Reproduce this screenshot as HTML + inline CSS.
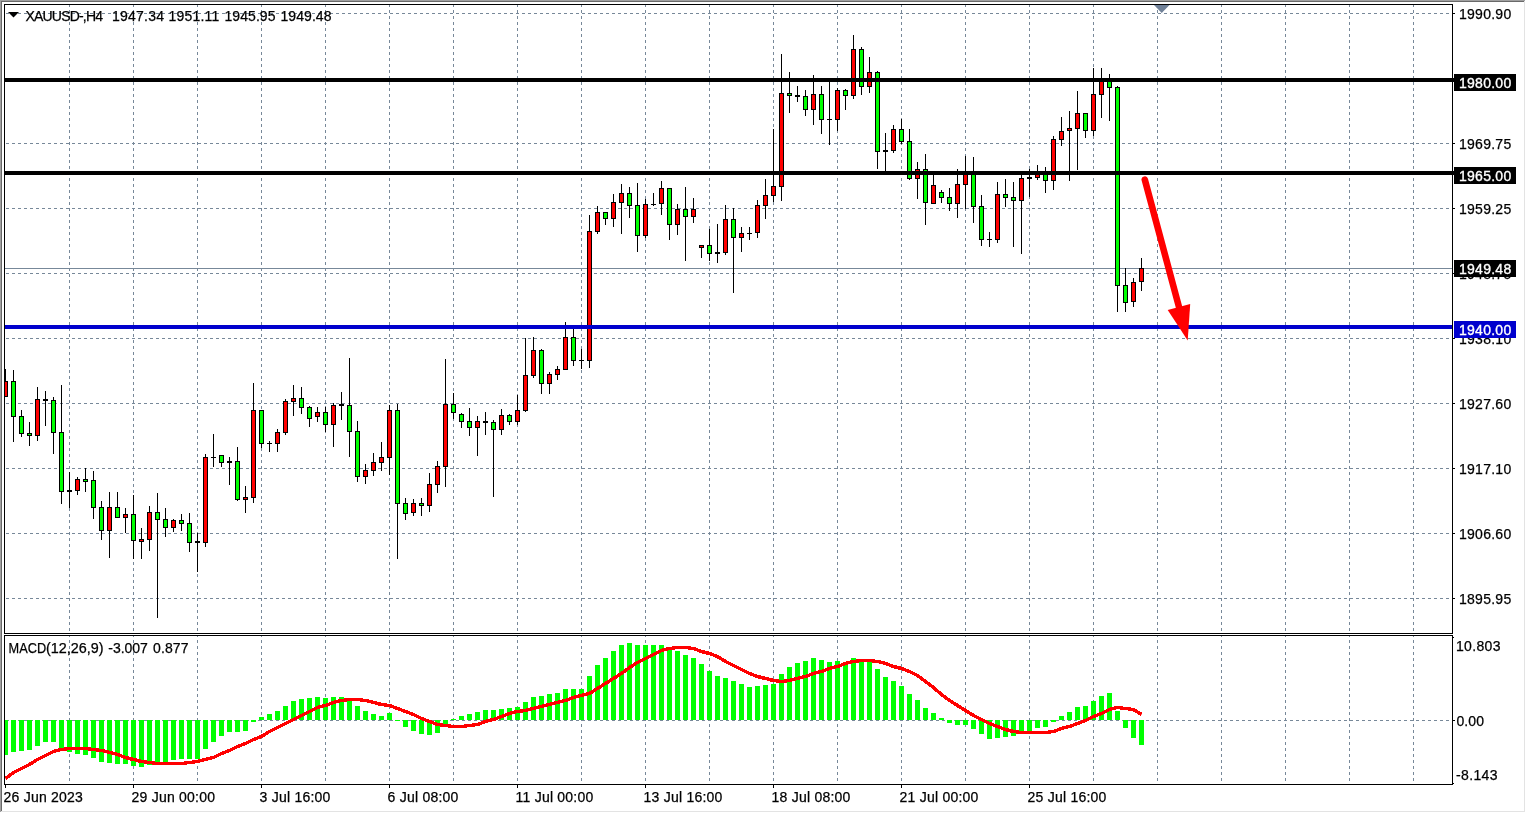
<!DOCTYPE html>
<html><head><meta charset="utf-8"><title>XAUUSD H4</title>
<style>html,body{margin:0;padding:0;background:#fff;overflow:hidden}svg{display:block}text{font-family:"Liberation Sans",sans-serif;font-size:14px;fill:#000;stroke:#000;stroke-width:.25px}.w{fill:#fff;stroke:#fff;stroke-width:.35px}.d{letter-spacing:0.22px}</style></head>
<body>
<svg width="1526" height="813" viewBox="0 0 1526 813">
<rect x="0" y="0" width="1526" height="813" fill="#fff"/>
<g shape-rendering="crispEdges">
<rect x="0" y="0" width="1525" height="1" fill="#a0a0a0"/><rect x="0" y="0" width="1" height="812" fill="#a0a0a0"/><rect x="1" y="1" width="1523" height="1" fill="#696969"/><rect x="1" y="1" width="1" height="810" fill="#696969"/><rect x="1" y="811" width="1524" height="1" fill="#e3e3e3"/><rect x="1524" y="1" width="1" height="811" fill="#e3e3e3"/>
<g stroke="#778899" stroke-width="1" stroke-dasharray="3 3" fill="none">
<path d="M6 13.5H1452"/><path d="M6 78.5H1452"/><path d="M6 143.5H1452"/><path d="M6 208.5H1452"/><path d="M6 273.5H1452"/><path d="M6 338.5H1452"/><path d="M6 403.5H1452"/><path d="M6 468.5H1452"/><path d="M6 533.5H1452"/><path d="M6 598.5H1452"/><path d="M6 720.5H1452"/>
<path d="M69.5 4V784"/><path d="M133.5 4V784"/><path d="M197.5 4V784"/><path d="M261.5 4V784"/><path d="M325.5 4V784"/><path d="M389.5 4V784"/><path d="M453.5 4V784"/><path d="M517.5 4V784"/><path d="M581.5 4V784"/><path d="M645.5 4V784"/><path d="M709.5 4V784"/><path d="M773.5 4V784"/><path d="M837.5 4V784"/><path d="M901.5 4V784"/><path d="M965.5 4V784"/><path d="M1029.5 4V784"/><path d="M1093.5 4V784"/><path d="M1157.5 4V784"/><path d="M1221.5 4V784"/><path d="M1285.5 4V784"/><path d="M1349.5 4V784"/><path d="M1413.5 4V784"/></g>
<rect x="4" y="634" width="1450" height="1" fill="#fff"/>
<rect x="5" y="268" width="1447" height="1" fill="#778899"/>
</g>
<path d="M1154 5H1169.5L1161.7 13Z" fill="#708198"/>
<defs><clipPath id="cm"><rect x="5" y="5" width="1447" height="628"/></clipPath><clipPath id="ci"><rect x="5" y="636" width="1447" height="148"/></clipPath></defs>
<g shape-rendering="crispEdges" clip-path="url(#cm)">
<rect x="5" y="369" width="1" height="28"/><rect x="3" y="381" width="5" height="16"/><rect x="4" y="382" width="3" height="14" fill="#ff0000"/>
<rect x="13" y="370" width="1" height="72"/><rect x="11" y="381" width="5" height="36"/><rect x="12" y="382" width="3" height="34" fill="#00ff00"/>
<rect x="21" y="410" width="1" height="27"/><rect x="19" y="416" width="5" height="18"/><rect x="20" y="417" width="3" height="16" fill="#00ff00"/>
<rect x="29" y="422" width="1" height="24"/><rect x="27" y="433" width="5" height="3"/><rect x="28" y="434" width="3" height="1" fill="#00ff00"/>
<rect x="37" y="387" width="1" height="54"/><rect x="35" y="399" width="5" height="37"/><rect x="36" y="400" width="3" height="35" fill="#ff0000"/>
<rect x="45" y="391" width="1" height="35"/><rect x="43" y="399" width="5" height="2"/>
<rect x="53" y="397" width="1" height="57"/><rect x="51" y="400" width="5" height="33"/><rect x="52" y="401" width="3" height="31" fill="#00ff00"/>
<rect x="61" y="385" width="1" height="119"/><rect x="59" y="432" width="5" height="60"/><rect x="60" y="433" width="3" height="58" fill="#00ff00"/>
<rect x="69" y="472" width="1" height="36"/><rect x="67" y="490" width="5" height="2"/>
<rect x="77" y="477" width="1" height="18"/><rect x="75" y="479" width="5" height="12"/><rect x="76" y="480" width="3" height="10" fill="#ff0000"/>
<rect x="85" y="468" width="1" height="24"/><rect x="83" y="479" width="5" height="3"/><rect x="84" y="480" width="3" height="1" fill="#00ff00"/>
<rect x="93" y="471" width="1" height="48"/><rect x="91" y="480" width="5" height="28"/><rect x="92" y="481" width="3" height="26" fill="#00ff00"/>
<rect x="101" y="501" width="1" height="39"/><rect x="99" y="507" width="5" height="24"/><rect x="100" y="508" width="3" height="22" fill="#00ff00"/>
<rect x="109" y="492" width="1" height="66"/><rect x="107" y="507" width="5" height="24"/><rect x="108" y="508" width="3" height="22" fill="#ff0000"/>
<rect x="117" y="492" width="1" height="26"/><rect x="115" y="507" width="5" height="11"/><rect x="116" y="508" width="3" height="9" fill="#00ff00"/>
<rect x="125" y="508" width="1" height="25"/><rect x="123" y="514" width="5" height="4"/><rect x="124" y="515" width="3" height="2" fill="#ff0000"/>
<rect x="133" y="495" width="1" height="64"/><rect x="131" y="514" width="5" height="27"/><rect x="132" y="515" width="3" height="25" fill="#00ff00"/>
<rect x="141" y="528" width="1" height="31"/><rect x="139" y="539" width="5" height="3"/><rect x="140" y="540" width="3" height="1" fill="#ff0000"/>
<rect x="149" y="506" width="1" height="45"/><rect x="147" y="512" width="5" height="28"/><rect x="148" y="513" width="3" height="26" fill="#ff0000"/>
<rect x="157" y="493" width="1" height="125"/><rect x="155" y="512" width="5" height="8"/><rect x="156" y="513" width="3" height="6" fill="#00ff00"/>
<rect x="165" y="508" width="1" height="29"/><rect x="163" y="519" width="5" height="9"/><rect x="164" y="520" width="3" height="7" fill="#00ff00"/>
<rect x="173" y="519" width="1" height="13"/><rect x="171" y="520" width="5" height="8"/><rect x="172" y="521" width="3" height="6" fill="#ff0000"/>
<rect x="181" y="514" width="1" height="17"/><rect x="179" y="520" width="5" height="4"/><rect x="180" y="521" width="3" height="2" fill="#00ff00"/>
<rect x="189" y="513" width="1" height="39"/><rect x="187" y="523" width="5" height="20"/><rect x="188" y="524" width="3" height="18" fill="#00ff00"/>
<rect x="197" y="533" width="1" height="39"/><rect x="195" y="541" width="5" height="2"/>
<rect x="205" y="454" width="1" height="93"/><rect x="203" y="457" width="5" height="86"/><rect x="204" y="458" width="3" height="84" fill="#ff0000"/>
<rect x="213" y="434" width="1" height="33"/><rect x="211" y="457" width="5" height="1"/>
<rect x="221" y="455" width="1" height="12"/><rect x="219" y="455" width="5" height="8"/><rect x="220" y="456" width="3" height="6" fill="#00ff00"/>
<rect x="229" y="457" width="1" height="28"/><rect x="227" y="461" width="5" height="2"/>
<rect x="237" y="447" width="1" height="54"/><rect x="235" y="461" width="5" height="39"/><rect x="236" y="462" width="3" height="37" fill="#00ff00"/>
<rect x="245" y="486" width="1" height="27"/><rect x="243" y="497" width="5" height="3"/><rect x="244" y="498" width="3" height="1" fill="#ff0000"/>
<rect x="253" y="383" width="1" height="120"/><rect x="251" y="410" width="5" height="88"/><rect x="252" y="411" width="3" height="86" fill="#ff0000"/>
<rect x="261" y="410" width="1" height="38"/><rect x="259" y="410" width="5" height="34"/><rect x="260" y="411" width="3" height="32" fill="#00ff00"/>
<rect x="269" y="441" width="1" height="11"/><rect x="267" y="443" width="5" height="1"/>
<rect x="277" y="429" width="1" height="23"/><rect x="275" y="432" width="5" height="12"/><rect x="276" y="433" width="3" height="10" fill="#ff0000"/>
<rect x="285" y="399" width="1" height="36"/><rect x="283" y="401" width="5" height="32"/><rect x="284" y="402" width="3" height="30" fill="#ff0000"/>
<rect x="293" y="385" width="1" height="31"/><rect x="291" y="398" width="5" height="4"/><rect x="292" y="399" width="3" height="2" fill="#ff0000"/>
<rect x="301" y="387" width="1" height="27"/><rect x="299" y="398" width="5" height="10"/><rect x="300" y="399" width="3" height="8" fill="#00ff00"/>
<rect x="309" y="406" width="1" height="21"/><rect x="307" y="407" width="5" height="12"/><rect x="308" y="408" width="3" height="10" fill="#00ff00"/>
<rect x="317" y="407" width="1" height="15"/><rect x="315" y="412" width="5" height="5"/><rect x="316" y="413" width="3" height="3" fill="#ff0000"/>
<rect x="325" y="407" width="1" height="25"/><rect x="323" y="412" width="5" height="13"/><rect x="324" y="413" width="3" height="11" fill="#00ff00"/>
<rect x="333" y="403" width="1" height="44"/><rect x="331" y="405" width="5" height="20"/><rect x="332" y="406" width="3" height="18" fill="#ff0000"/>
<rect x="341" y="392" width="1" height="28"/><rect x="339" y="404" width="5" height="2"/>
<rect x="349" y="358" width="1" height="99"/><rect x="347" y="405" width="5" height="27"/><rect x="348" y="406" width="3" height="25" fill="#00ff00"/>
<rect x="357" y="421" width="1" height="61"/><rect x="355" y="431" width="5" height="46"/><rect x="356" y="432" width="3" height="44" fill="#00ff00"/>
<rect x="365" y="464" width="1" height="20"/><rect x="363" y="470" width="5" height="7"/><rect x="364" y="471" width="3" height="5" fill="#ff0000"/>
<rect x="373" y="453" width="1" height="23"/><rect x="371" y="462" width="5" height="9"/><rect x="372" y="463" width="3" height="7" fill="#ff0000"/>
<rect x="381" y="442" width="1" height="29"/><rect x="379" y="457" width="5" height="6"/><rect x="380" y="458" width="3" height="4" fill="#ff0000"/>
<rect x="389" y="405" width="1" height="70"/><rect x="387" y="410" width="5" height="48"/><rect x="388" y="411" width="3" height="46" fill="#ff0000"/>
<rect x="397" y="404" width="1" height="155"/><rect x="395" y="410" width="5" height="94"/><rect x="396" y="411" width="3" height="92" fill="#00ff00"/>
<rect x="405" y="498" width="1" height="22"/><rect x="403" y="503" width="5" height="11"/><rect x="404" y="504" width="3" height="9" fill="#00ff00"/>
<rect x="413" y="499" width="1" height="17"/><rect x="411" y="503" width="5" height="10"/><rect x="412" y="504" width="3" height="8" fill="#ff0000"/>
<rect x="421" y="498" width="1" height="18"/><rect x="419" y="503" width="5" height="3"/><rect x="420" y="504" width="3" height="1" fill="#00ff00"/>
<rect x="429" y="473" width="1" height="39"/><rect x="427" y="484" width="5" height="22"/><rect x="428" y="485" width="3" height="20" fill="#ff0000"/>
<rect x="437" y="461" width="1" height="32"/><rect x="435" y="466" width="5" height="19"/><rect x="436" y="467" width="3" height="17" fill="#ff0000"/>
<rect x="445" y="359" width="1" height="128"/><rect x="443" y="404" width="5" height="63"/><rect x="444" y="405" width="3" height="61" fill="#ff0000"/>
<rect x="453" y="393" width="1" height="26"/><rect x="451" y="404" width="5" height="9"/><rect x="452" y="405" width="3" height="7" fill="#00ff00"/>
<rect x="461" y="413" width="1" height="15"/><rect x="459" y="414" width="5" height="8"/><rect x="460" y="415" width="3" height="6" fill="#00ff00"/>
<rect x="469" y="408" width="1" height="28"/><rect x="467" y="421" width="5" height="7"/><rect x="468" y="422" width="3" height="5" fill="#00ff00"/>
<rect x="477" y="416" width="1" height="40"/><rect x="475" y="421" width="5" height="7"/><rect x="476" y="422" width="3" height="5" fill="#ff0000"/>
<rect x="485" y="412" width="1" height="23"/><rect x="483" y="421" width="5" height="2"/>
<rect x="493" y="420" width="1" height="77"/><rect x="491" y="422" width="5" height="8"/><rect x="492" y="423" width="3" height="6" fill="#00ff00"/>
<rect x="501" y="409" width="1" height="26"/><rect x="499" y="415" width="5" height="15"/><rect x="500" y="416" width="3" height="13" fill="#ff0000"/>
<rect x="509" y="414" width="1" height="11"/><rect x="507" y="415" width="5" height="7"/><rect x="508" y="416" width="3" height="5" fill="#00ff00"/>
<rect x="517" y="395" width="1" height="30"/><rect x="515" y="410" width="5" height="12"/><rect x="516" y="411" width="3" height="10" fill="#ff0000"/>
<rect x="525" y="338" width="1" height="74"/><rect x="523" y="375" width="5" height="36"/><rect x="524" y="376" width="3" height="34" fill="#ff0000"/>
<rect x="533" y="337" width="1" height="41"/><rect x="531" y="350" width="5" height="26"/><rect x="532" y="351" width="3" height="24" fill="#ff0000"/>
<rect x="541" y="349" width="1" height="45"/><rect x="539" y="350" width="5" height="34"/><rect x="540" y="351" width="3" height="32" fill="#00ff00"/>
<rect x="549" y="372" width="1" height="22"/><rect x="547" y="374" width="5" height="10"/><rect x="548" y="375" width="3" height="8" fill="#ff0000"/>
<rect x="557" y="366" width="1" height="14"/><rect x="555" y="369" width="5" height="6"/><rect x="556" y="370" width="3" height="4" fill="#ff0000"/>
<rect x="565" y="322" width="1" height="48"/><rect x="563" y="337" width="5" height="33"/><rect x="564" y="338" width="3" height="31" fill="#ff0000"/>
<rect x="573" y="327" width="1" height="39"/><rect x="571" y="337" width="5" height="24"/><rect x="572" y="338" width="3" height="22" fill="#00ff00"/>
<rect x="581" y="349" width="1" height="20"/><rect x="579" y="360" width="5" height="1"/>
<rect x="589" y="215" width="1" height="153"/><rect x="587" y="231" width="5" height="130"/><rect x="588" y="232" width="3" height="128" fill="#ff0000"/>
<rect x="597" y="206" width="1" height="28"/><rect x="595" y="212" width="5" height="20"/><rect x="596" y="213" width="3" height="18" fill="#ff0000"/>
<rect x="605" y="212" width="1" height="13"/><rect x="603" y="212" width="5" height="7"/><rect x="604" y="213" width="3" height="5" fill="#00ff00"/>
<rect x="613" y="194" width="1" height="33"/><rect x="611" y="202" width="5" height="17"/><rect x="612" y="203" width="3" height="15" fill="#ff0000"/>
<rect x="621" y="184" width="1" height="50"/><rect x="619" y="193" width="5" height="10"/><rect x="620" y="194" width="3" height="8" fill="#ff0000"/>
<rect x="629" y="187" width="1" height="31"/><rect x="627" y="193" width="5" height="13"/><rect x="628" y="194" width="3" height="11" fill="#00ff00"/>
<rect x="637" y="183" width="1" height="69"/><rect x="635" y="205" width="5" height="31"/><rect x="636" y="206" width="3" height="29" fill="#00ff00"/>
<rect x="645" y="199" width="1" height="39"/><rect x="643" y="204" width="5" height="32"/><rect x="644" y="205" width="3" height="30" fill="#ff0000"/>
<rect x="653" y="193" width="1" height="13"/><rect x="651" y="204" width="5" height="1"/>
<rect x="661" y="181" width="1" height="34"/><rect x="659" y="188" width="5" height="16"/><rect x="660" y="189" width="3" height="14" fill="#ff0000"/>
<rect x="669" y="188" width="1" height="52"/><rect x="667" y="188" width="5" height="37"/><rect x="668" y="189" width="3" height="35" fill="#00ff00"/>
<rect x="677" y="204" width="1" height="31"/><rect x="675" y="209" width="5" height="16"/><rect x="676" y="210" width="3" height="14" fill="#ff0000"/>
<rect x="685" y="187" width="1" height="74"/><rect x="683" y="209" width="5" height="8"/><rect x="684" y="210" width="3" height="6" fill="#00ff00"/>
<rect x="693" y="198" width="1" height="25"/><rect x="691" y="209" width="5" height="8"/><rect x="692" y="210" width="3" height="6" fill="#ff0000"/>
<rect x="701" y="245" width="1" height="13"/><rect x="699" y="245" width="5" height="3"/><rect x="700" y="246" width="3" height="1" fill="#ff0000"/>
<rect x="709" y="229" width="1" height="32"/><rect x="707" y="245" width="5" height="9"/><rect x="708" y="246" width="3" height="7" fill="#00ff00"/>
<rect x="717" y="224" width="1" height="39"/><rect x="715" y="252" width="5" height="2"/>
<rect x="725" y="205" width="1" height="50"/><rect x="723" y="219" width="5" height="34"/><rect x="724" y="220" width="3" height="32" fill="#ff0000"/>
<rect x="733" y="208" width="1" height="85"/><rect x="731" y="219" width="5" height="19"/><rect x="732" y="220" width="3" height="17" fill="#00ff00"/>
<rect x="741" y="227" width="1" height="25"/><rect x="739" y="233" width="5" height="5"/><rect x="740" y="234" width="3" height="3" fill="#ff0000"/>
<rect x="749" y="227" width="1" height="13"/><rect x="747" y="233" width="5" height="1"/>
<rect x="757" y="200" width="1" height="38"/><rect x="755" y="205" width="5" height="28"/><rect x="756" y="206" width="3" height="26" fill="#ff0000"/>
<rect x="765" y="179" width="1" height="40"/><rect x="763" y="195" width="5" height="11"/><rect x="764" y="196" width="3" height="9" fill="#ff0000"/>
<rect x="773" y="129" width="1" height="73"/><rect x="771" y="186" width="5" height="10"/><rect x="772" y="187" width="3" height="8" fill="#ff0000"/>
<rect x="781" y="54" width="1" height="147"/><rect x="779" y="93" width="5" height="94"/><rect x="780" y="94" width="3" height="92" fill="#ff0000"/>
<rect x="789" y="72" width="1" height="41"/><rect x="787" y="93" width="5" height="3"/><rect x="788" y="94" width="3" height="1" fill="#00ff00"/>
<rect x="797" y="86" width="1" height="16"/><rect x="795" y="95" width="5" height="2"/>
<rect x="805" y="90" width="1" height="26"/><rect x="803" y="96" width="5" height="14"/><rect x="804" y="97" width="3" height="12" fill="#00ff00"/>
<rect x="813" y="75" width="1" height="50"/><rect x="811" y="94" width="5" height="16"/><rect x="812" y="95" width="3" height="14" fill="#ff0000"/>
<rect x="821" y="86" width="1" height="48"/><rect x="819" y="94" width="5" height="26"/><rect x="820" y="95" width="3" height="24" fill="#00ff00"/>
<rect x="829" y="80" width="1" height="65"/><rect x="827" y="119" width="5" height="1"/>
<rect x="837" y="88" width="1" height="43"/><rect x="835" y="90" width="5" height="30"/><rect x="836" y="91" width="3" height="28" fill="#ff0000"/>
<rect x="845" y="89" width="1" height="21"/><rect x="843" y="90" width="5" height="6"/><rect x="844" y="91" width="3" height="4" fill="#00ff00"/>
<rect x="853" y="35" width="1" height="64"/><rect x="851" y="49" width="5" height="47"/><rect x="852" y="50" width="3" height="45" fill="#ff0000"/>
<rect x="861" y="47" width="1" height="48"/><rect x="859" y="49" width="5" height="38"/><rect x="860" y="50" width="3" height="36" fill="#00ff00"/>
<rect x="869" y="57" width="1" height="36"/><rect x="867" y="72" width="5" height="15"/><rect x="868" y="73" width="3" height="13" fill="#ff0000"/>
<rect x="877" y="71" width="1" height="98"/><rect x="875" y="72" width="5" height="80"/><rect x="876" y="73" width="3" height="78" fill="#00ff00"/>
<rect x="885" y="133" width="1" height="40"/><rect x="883" y="150" width="5" height="2"/>
<rect x="893" y="125" width="1" height="28"/><rect x="891" y="129" width="5" height="22"/><rect x="892" y="130" width="3" height="20" fill="#ff0000"/>
<rect x="901" y="119" width="1" height="25"/><rect x="899" y="129" width="5" height="13"/><rect x="900" y="130" width="3" height="11" fill="#00ff00"/>
<rect x="909" y="129" width="1" height="51"/><rect x="907" y="141" width="5" height="38"/><rect x="908" y="142" width="3" height="36" fill="#00ff00"/>
<rect x="917" y="162" width="1" height="37"/><rect x="915" y="169" width="5" height="10"/><rect x="916" y="170" width="3" height="8" fill="#ff0000"/>
<rect x="925" y="154" width="1" height="71"/><rect x="923" y="169" width="5" height="34"/><rect x="924" y="170" width="3" height="32" fill="#00ff00"/>
<rect x="933" y="172" width="1" height="32"/><rect x="931" y="185" width="5" height="19"/><rect x="932" y="186" width="3" height="17" fill="#ff0000"/>
<rect x="941" y="190" width="1" height="13"/><rect x="939" y="192" width="5" height="6"/><rect x="940" y="193" width="3" height="4" fill="#00ff00"/>
<rect x="949" y="188" width="1" height="23"/><rect x="947" y="197" width="5" height="7"/><rect x="948" y="198" width="3" height="5" fill="#00ff00"/>
<rect x="957" y="169" width="1" height="49"/><rect x="955" y="184" width="5" height="20"/><rect x="956" y="185" width="3" height="18" fill="#ff0000"/>
<rect x="965" y="156" width="1" height="53"/><rect x="963" y="172" width="5" height="13"/><rect x="964" y="173" width="3" height="11" fill="#ff0000"/>
<rect x="973" y="157" width="1" height="66"/><rect x="971" y="172" width="5" height="35"/><rect x="972" y="173" width="3" height="33" fill="#00ff00"/>
<rect x="981" y="195" width="1" height="51"/><rect x="979" y="206" width="5" height="34"/><rect x="980" y="207" width="3" height="32" fill="#00ff00"/>
<rect x="989" y="232" width="1" height="15"/><rect x="987" y="239" width="5" height="1"/>
<rect x="997" y="182" width="1" height="61"/><rect x="995" y="194" width="5" height="46"/><rect x="996" y="195" width="3" height="44" fill="#ff0000"/>
<rect x="1005" y="179" width="1" height="28"/><rect x="1003" y="194" width="5" height="4"/><rect x="1004" y="195" width="3" height="2" fill="#00ff00"/>
<rect x="1013" y="182" width="1" height="65"/><rect x="1011" y="197" width="5" height="4"/><rect x="1012" y="198" width="3" height="2" fill="#00ff00"/>
<rect x="1021" y="172" width="1" height="82"/><rect x="1019" y="178" width="5" height="23"/><rect x="1020" y="179" width="3" height="21" fill="#ff0000"/>
<rect x="1029" y="169" width="1" height="28"/><rect x="1027" y="177" width="5" height="2"/>
<rect x="1037" y="165" width="1" height="15"/><rect x="1035" y="172" width="5" height="6"/><rect x="1036" y="173" width="3" height="4" fill="#ff0000"/>
<rect x="1045" y="167" width="1" height="26"/><rect x="1043" y="172" width="5" height="9"/><rect x="1044" y="173" width="3" height="7" fill="#00ff00"/>
<rect x="1053" y="136" width="1" height="54"/><rect x="1051" y="139" width="5" height="42"/><rect x="1052" y="140" width="3" height="40" fill="#ff0000"/>
<rect x="1061" y="117" width="1" height="29"/><rect x="1059" y="131" width="5" height="9"/><rect x="1060" y="132" width="3" height="7" fill="#ff0000"/>
<rect x="1069" y="111" width="1" height="70"/><rect x="1067" y="128" width="5" height="3"/><rect x="1068" y="129" width="3" height="1" fill="#ff0000"/>
<rect x="1077" y="91" width="1" height="79"/><rect x="1075" y="113" width="5" height="16"/><rect x="1076" y="114" width="3" height="14" fill="#ff0000"/>
<rect x="1085" y="113" width="1" height="25"/><rect x="1083" y="113" width="5" height="18"/><rect x="1084" y="114" width="3" height="16" fill="#00ff00"/>
<rect x="1093" y="68" width="1" height="68"/><rect x="1091" y="94" width="5" height="37"/><rect x="1092" y="95" width="3" height="35" fill="#ff0000"/>
<rect x="1101" y="68" width="1" height="50"/><rect x="1099" y="80" width="5" height="15"/><rect x="1100" y="81" width="3" height="13" fill="#ff0000"/>
<rect x="1109" y="74" width="1" height="47"/><rect x="1107" y="80" width="5" height="8"/><rect x="1108" y="81" width="3" height="6" fill="#00ff00"/>
<rect x="1117" y="86" width="1" height="226"/><rect x="1115" y="87" width="5" height="199"/><rect x="1116" y="88" width="3" height="197" fill="#00ff00"/>
<rect x="1125" y="268" width="1" height="44"/><rect x="1123" y="285" width="5" height="18"/><rect x="1124" y="286" width="3" height="16" fill="#00ff00"/>
<rect x="1133" y="278" width="1" height="29"/><rect x="1131" y="282" width="5" height="20"/><rect x="1132" y="283" width="3" height="18" fill="#ff0000"/>
<rect x="1141" y="258" width="1" height="33"/><rect x="1139" y="268" width="5" height="14"/><rect x="1140" y="269" width="3" height="12" fill="#ff0000"/>
</g>
<g shape-rendering="crispEdges" clip-path="url(#ci)" fill="#00ff00">
<rect x="3" y="720" width="5" height="35"/><rect x="11" y="720" width="5" height="32"/><rect x="19" y="720" width="5" height="31"/><rect x="27" y="720" width="5" height="30"/><rect x="35" y="720" width="5" height="26"/><rect x="43" y="720" width="5" height="22"/><rect x="51" y="720" width="5" height="22"/><rect x="59" y="720" width="5" height="28"/><rect x="67" y="720" width="5" height="32"/><rect x="75" y="720" width="5" height="34"/><rect x="83" y="720" width="5" height="35"/><rect x="91" y="720" width="5" height="38"/><rect x="99" y="720" width="5" height="42"/><rect x="107" y="720" width="5" height="43"/><rect x="115" y="720" width="5" height="44"/><rect x="123" y="720" width="5" height="44"/><rect x="131" y="720" width="5" height="46"/><rect x="139" y="720" width="5" height="47"/><rect x="147" y="720" width="5" height="45"/><rect x="155" y="720" width="5" height="44"/><rect x="163" y="720" width="5" height="42"/><rect x="171" y="720" width="5" height="40"/><rect x="179" y="720" width="5" height="39"/><rect x="187" y="720" width="5" height="39"/><rect x="195" y="720" width="5" height="39"/><rect x="203" y="720" width="5" height="29"/><rect x="211" y="720" width="5" height="22"/><rect x="219" y="720" width="5" height="16"/><rect x="227" y="720" width="5" height="12"/><rect x="235" y="720" width="5" height="12"/><rect x="243" y="720" width="5" height="11"/><rect x="251" y="720" width="5" height="2"/><rect x="259" y="717" width="5" height="3"/><rect x="267" y="714" width="5" height="6"/><rect x="275" y="711" width="5" height="9"/><rect x="283" y="706" width="5" height="14"/><rect x="291" y="701" width="5" height="19"/><rect x="299" y="699" width="5" height="21"/><rect x="307" y="698" width="5" height="22"/><rect x="315" y="697" width="5" height="23"/><rect x="323" y="698" width="5" height="22"/><rect x="331" y="697" width="5" height="23"/><rect x="339" y="697" width="5" height="23"/><rect x="347" y="700" width="5" height="20"/><rect x="355" y="706" width="5" height="14"/><rect x="363" y="711" width="5" height="9"/><rect x="371" y="714" width="5" height="6"/><rect x="379" y="716" width="5" height="4"/><rect x="387" y="713" width="5" height="7"/><rect x="395" y="720" width="5" height="1"/><rect x="403" y="720" width="5" height="7"/><rect x="411" y="720" width="5" height="11"/><rect x="419" y="720" width="5" height="14"/><rect x="427" y="720" width="5" height="15"/><rect x="435" y="720" width="5" height="13"/><rect x="443" y="720" width="5" height="5"/><rect x="451" y="719" width="5" height="1"/><rect x="459" y="716" width="5" height="4"/><rect x="467" y="714" width="5" height="6"/><rect x="475" y="712" width="5" height="8"/><rect x="483" y="710" width="5" height="10"/><rect x="491" y="710" width="5" height="10"/><rect x="499" y="709" width="5" height="11"/><rect x="507" y="708" width="5" height="12"/><rect x="515" y="707" width="5" height="13"/><rect x="523" y="702" width="5" height="18"/><rect x="531" y="697" width="5" height="23"/><rect x="539" y="696" width="5" height="24"/><rect x="547" y="694" width="5" height="26"/><rect x="555" y="693" width="5" height="27"/><rect x="563" y="689" width="5" height="31"/><rect x="571" y="689" width="5" height="31"/><rect x="579" y="689" width="5" height="31"/><rect x="587" y="676" width="5" height="44"/><rect x="595" y="665" width="5" height="55"/><rect x="603" y="658" width="5" height="62"/><rect x="611" y="651" width="5" height="69"/><rect x="619" y="645" width="5" height="75"/><rect x="627" y="643" width="5" height="77"/><rect x="635" y="645" width="5" height="75"/><rect x="643" y="645" width="5" height="75"/><rect x="651" y="645" width="5" height="75"/><rect x="659" y="645" width="5" height="75"/><rect x="667" y="648" width="5" height="72"/><rect x="675" y="651" width="5" height="69"/><rect x="683" y="655" width="5" height="65"/><rect x="691" y="658" width="5" height="62"/><rect x="699" y="664" width="5" height="56"/><rect x="707" y="671" width="5" height="49"/><rect x="715" y="676" width="5" height="44"/><rect x="723" y="678" width="5" height="42"/><rect x="731" y="681" width="5" height="39"/><rect x="739" y="684" width="5" height="36"/><rect x="747" y="687" width="5" height="33"/><rect x="755" y="686" width="5" height="34"/><rect x="763" y="685" width="5" height="35"/><rect x="771" y="684" width="5" height="36"/><rect x="779" y="674" width="5" height="46"/><rect x="787" y="667" width="5" height="53"/><rect x="795" y="663" width="5" height="57"/><rect x="803" y="661" width="5" height="59"/><rect x="811" y="658" width="5" height="62"/><rect x="819" y="660" width="5" height="60"/><rect x="827" y="662" width="5" height="58"/><rect x="835" y="661" width="5" height="59"/><rect x="843" y="663" width="5" height="57"/><rect x="851" y="658" width="5" height="62"/><rect x="859" y="660" width="5" height="60"/><rect x="867" y="662" width="5" height="58"/><rect x="875" y="669" width="5" height="51"/><rect x="883" y="677" width="5" height="43"/><rect x="891" y="681" width="5" height="39"/><rect x="899" y="686" width="5" height="34"/><rect x="907" y="694" width="5" height="26"/><rect x="915" y="700" width="5" height="20"/><rect x="923" y="708" width="5" height="12"/><rect x="931" y="713" width="5" height="7"/><rect x="939" y="718" width="5" height="2"/><rect x="947" y="720" width="5" height="3"/><rect x="955" y="720" width="5" height="5"/><rect x="963" y="720" width="5" height="5"/><rect x="971" y="720" width="5" height="9"/><rect x="979" y="720" width="5" height="14"/><rect x="987" y="720" width="5" height="19"/><rect x="995" y="720" width="5" height="18"/><rect x="1003" y="720" width="5" height="17"/><rect x="1011" y="720" width="5" height="16"/><rect x="1019" y="720" width="5" height="13"/><rect x="1027" y="720" width="5" height="11"/><rect x="1035" y="720" width="5" height="8"/><rect x="1043" y="720" width="5" height="7"/><rect x="1051" y="720" width="5" height="2"/><rect x="1059" y="716" width="5" height="4"/><rect x="1067" y="712" width="5" height="8"/><rect x="1075" y="707" width="5" height="13"/><rect x="1083" y="706" width="5" height="14"/><rect x="1091" y="701" width="5" height="19"/><rect x="1099" y="696" width="5" height="24"/><rect x="1107" y="693" width="5" height="27"/><rect x="1115" y="711" width="5" height="9"/><rect x="1123" y="720" width="5" height="8"/><rect x="1131" y="720" width="5" height="18"/><rect x="1139" y="720" width="5" height="25"/>
</g>
<polyline clip-path="url(#ci)" points="5.5,778.5 13.5,772.5 21.5,768.5 29.5,764.5 37.5,759.5 45.5,755.5 53.5,751.5 61.5,749.5 69.5,748.5 77.5,748.5 85.5,748.5 93.5,749.5 101.5,750.5 109.5,752.5 117.5,754.5 125.5,757.5 133.5,759.5 141.5,761.5 149.5,762.5 157.5,763.5 165.5,763.5 173.5,763.5 181.5,763.5 189.5,762.5 197.5,761.5 205.5,759.5 213.5,757.5 221.5,753.5 229.5,750.5 237.5,746.5 245.5,743.5 253.5,739.5 261.5,736.5 269.5,731.5 277.5,727.5 285.5,723.5 293.5,719.5 301.5,715.5 309.5,711.5 317.5,707.5 325.5,705.5 333.5,702.5 341.5,700.5 349.5,699.5 357.5,699.5 365.5,700.5 373.5,702.5 381.5,704.5 389.5,705.5 397.5,708.5 405.5,711.5 413.5,714.5 421.5,718.5 429.5,721.5 437.5,724.5 445.5,725.5 453.5,726.5 461.5,726.5 469.5,725.5 477.5,724.5 485.5,721.5 493.5,719.5 501.5,716.5 509.5,713.5 517.5,711.5 525.5,710.5 533.5,708.5 541.5,706.5 549.5,704.5 557.5,702.5 565.5,700.5 573.5,697.5 581.5,695.5 589.5,693.5 597.5,688.5 605.5,683.5 613.5,678.5 621.5,673.5 629.5,667.5 637.5,662.5 645.5,658.5 653.5,654.5 661.5,650.5 669.5,648.5 677.5,647.5 685.5,647.5 693.5,648.5 701.5,651.5 709.5,653.5 717.5,656.5 725.5,661.5 733.5,665.5 741.5,669.5 749.5,673.5 757.5,676.5 765.5,678.5 773.5,680.5 781.5,681.5 789.5,680.5 797.5,678.5 805.5,676.5 813.5,673.5 821.5,671.5 829.5,668.5 837.5,666.5 845.5,663.5 853.5,661.5 861.5,660.5 869.5,660.5 877.5,661.5 885.5,663.5 893.5,666.5 901.5,668.5 909.5,671.5 917.5,675.5 925.5,681.5 933.5,687.5 941.5,694.5 949.5,700.5 957.5,705.5 965.5,710.5 973.5,715.5 981.5,719.5 989.5,723.5 997.5,726.5 1005.5,729.5 1013.5,731.5 1021.5,732.5 1029.5,732.5 1037.5,732.5 1045.5,732.5 1053.5,731.5 1061.5,728.5 1069.5,726.5 1077.5,723.5 1085.5,720.5 1093.5,716.5 1101.5,713.5 1109.5,709.5 1117.5,707.5 1125.5,708.5 1133.5,709.5 1141.5,714.5" fill="none" stroke="#ff0000" stroke-width="2.4" stroke-linejoin="round"/>
<polyline clip-path="url(#ci)" shape-rendering="crispEdges" points="5.5,778.5 13.5,772.5 21.5,768.5 29.5,764.5 37.5,759.5 45.5,755.5 53.5,751.5 61.5,749.5 69.5,748.5 77.5,748.5 85.5,748.5 93.5,749.5 101.5,750.5 109.5,752.5 117.5,754.5 125.5,757.5 133.5,759.5 141.5,761.5 149.5,762.5 157.5,763.5 165.5,763.5 173.5,763.5 181.5,763.5 189.5,762.5 197.5,761.5 205.5,759.5 213.5,757.5 221.5,753.5 229.5,750.5 237.5,746.5 245.5,743.5 253.5,739.5 261.5,736.5 269.5,731.5 277.5,727.5 285.5,723.5 293.5,719.5 301.5,715.5 309.5,711.5 317.5,707.5 325.5,705.5 333.5,702.5 341.5,700.5 349.5,699.5 357.5,699.5 365.5,700.5 373.5,702.5 381.5,704.5 389.5,705.5 397.5,708.5 405.5,711.5 413.5,714.5 421.5,718.5 429.5,721.5 437.5,724.5 445.5,725.5 453.5,726.5 461.5,726.5 469.5,725.5 477.5,724.5 485.5,721.5 493.5,719.5 501.5,716.5 509.5,713.5 517.5,711.5 525.5,710.5 533.5,708.5 541.5,706.5 549.5,704.5 557.5,702.5 565.5,700.5 573.5,697.5 581.5,695.5 589.5,693.5 597.5,688.5 605.5,683.5 613.5,678.5 621.5,673.5 629.5,667.5 637.5,662.5 645.5,658.5 653.5,654.5 661.5,650.5 669.5,648.5 677.5,647.5 685.5,647.5 693.5,648.5 701.5,651.5 709.5,653.5 717.5,656.5 725.5,661.5 733.5,665.5 741.5,669.5 749.5,673.5 757.5,676.5 765.5,678.5 773.5,680.5 781.5,681.5 789.5,680.5 797.5,678.5 805.5,676.5 813.5,673.5 821.5,671.5 829.5,668.5 837.5,666.5 845.5,663.5 853.5,661.5 861.5,660.5 869.5,660.5 877.5,661.5 885.5,663.5 893.5,666.5 901.5,668.5 909.5,671.5 917.5,675.5 925.5,681.5 933.5,687.5 941.5,694.5 949.5,700.5 957.5,705.5 965.5,710.5 973.5,715.5 981.5,719.5 989.5,723.5 997.5,726.5 1005.5,729.5 1013.5,731.5 1021.5,732.5 1029.5,732.5 1037.5,732.5 1045.5,732.5 1053.5,731.5 1061.5,728.5 1069.5,726.5 1077.5,723.5 1085.5,720.5 1093.5,716.5 1101.5,713.5 1109.5,709.5 1117.5,707.5 1125.5,708.5 1133.5,709.5 1141.5,714.5" fill="none" stroke="#ff0000" stroke-width="3.4" stroke-linejoin="miter" stroke-linecap="butt"/>
<g shape-rendering="crispEdges">
<rect x="5" y="78" width="1449" height="4" fill="#000"/><rect x="5" y="171" width="1449" height="4" fill="#000"/><rect x="5" y="325" width="1447" height="4" fill="#0000cd"/>
<g fill="none" stroke="#000" stroke-width="1"><rect x="4.5" y="4.5" width="1448" height="629"/><rect x="4.5" y="635.5" width="1448" height="149"/></g>
<rect x="1453" y="13" width="2" height="1"/><rect x="1453" y="143" width="2" height="1"/><rect x="1453" y="208" width="2" height="1"/><rect x="1453" y="273" width="2" height="1"/><rect x="1453" y="338" width="2" height="1"/><rect x="1453" y="403" width="2" height="1"/><rect x="1453" y="468" width="2" height="1"/><rect x="1453" y="533" width="2" height="1"/><rect x="1453" y="598" width="2" height="1"/><rect x="1453" y="720" width="2" height="1"/><rect x="1453" y="637" width="1" height="1"/><rect x="1453" y="783" width="1" height="1"/>
<rect x="5" y="785" width="1" height="3"/><rect x="133" y="785" width="1" height="3"/><rect x="261" y="785" width="1" height="3"/><rect x="389" y="785" width="1" height="3"/><rect x="517" y="785" width="1" height="3"/><rect x="645" y="785" width="1" height="3"/><rect x="773" y="785" width="1" height="3"/><rect x="901" y="785" width="1" height="3"/><rect x="1029" y="785" width="1" height="3"/>
</g>
<path d="M1144.8 179.6L1179 307" stroke="#ff0000" stroke-width="6.6" stroke-linecap="round" fill="none"/><path d="M1167.7 310L1190.2 304L1187.7 340.6Z" fill="#ff0000"/>
<path d="M8 12H19L13.5 17.5Z" fill="#000"/>
<text x="25.5" y="21" textLength="77.5" lengthAdjust="spacing">XAUUSD-,H4</text><text x="112" y="21" textLength="52" lengthAdjust="spacing">1947.34</text><text x="168.4" y="21" textLength="51" lengthAdjust="spacing">1951.11</text><text x="224.5" y="21" textLength="51" lengthAdjust="spacing">1945.95</text><text x="280.5" y="21" textLength="51" lengthAdjust="spacing">1949.48</text>
<text y="653"><tspan x="8.6" textLength="37.5" lengthAdjust="spacingAndGlyphs">MACD</tspan><tspan x="46" textLength="57.5" lengthAdjust="spacingAndGlyphs">(12,26,9)</tspan><tspan> </tspan><tspan x="108.3" textLength="39.6">-3.007</tspan><tspan> </tspan><tspan x="153" textLength="35.5">0.877</tspan></text>
<text x="1459" y="19" textLength="52.2" lengthAdjust="spacing">1990.90</text><text x="1459" y="149" textLength="52.2" lengthAdjust="spacing">1969.75</text><text x="1459" y="214" textLength="52.2" lengthAdjust="spacing">1959.25</text><text x="1459" y="279" textLength="52.2" lengthAdjust="spacing">1948.75</text><text x="1459" y="344" textLength="52.2" lengthAdjust="spacing">1938.10</text><text x="1459" y="409" textLength="52.2" lengthAdjust="spacing">1927.60</text><text x="1459" y="474" textLength="52.2" lengthAdjust="spacing">1917.10</text><text x="1459" y="539" textLength="52.2" lengthAdjust="spacing">1906.60</text><text x="1459" y="604" textLength="52.2" lengthAdjust="spacing">1895.95</text>
<g shape-rendering="crispEdges"><rect x="1454" y="74" width="62" height="17"/><rect x="1454" y="167" width="62" height="17"/><rect x="1454" y="260" width="62" height="17"/><rect x="1454" y="321" width="62" height="17" fill="#0000cd"/></g>
<text x="1459" y="88" textLength="52.2" lengthAdjust="spacing" class="w">1980.00</text><text x="1459" y="181" textLength="52.2" lengthAdjust="spacing" class="w">1965.00</text><text x="1459" y="274" textLength="52.2" lengthAdjust="spacing" class="w">1949.48</text><text x="1459" y="335" textLength="52.2" lengthAdjust="spacing" class="w">1940.00</text>
<text x="1456" y="651" textLength="44.5" lengthAdjust="spacing">10.803</text><text x="1456.5" y="726" textLength="27.5" lengthAdjust="spacing">0.00</text><text x="1456" y="780" textLength="41.5" lengthAdjust="spacing">-8.143</text>
<text x="3.6" y="802" class="d">26 Jun 2023</text><text x="131.6" y="802" class="d">29 Jun 00:00</text><text x="259.6" y="802" class="d">3 Jul 16:00</text><text x="387.6" y="802" class="d">6 Jul 08:00</text><text x="515.6" y="802" class="d">11 Jul 00:00</text><text x="643.6" y="802" class="d">13 Jul 16:00</text><text x="771.6" y="802" class="d">18 Jul 08:00</text><text x="899.6" y="802" class="d">21 Jul 00:00</text><text x="1027.6" y="802" class="d">25 Jul 16:00</text>
</svg>
</body></html>
